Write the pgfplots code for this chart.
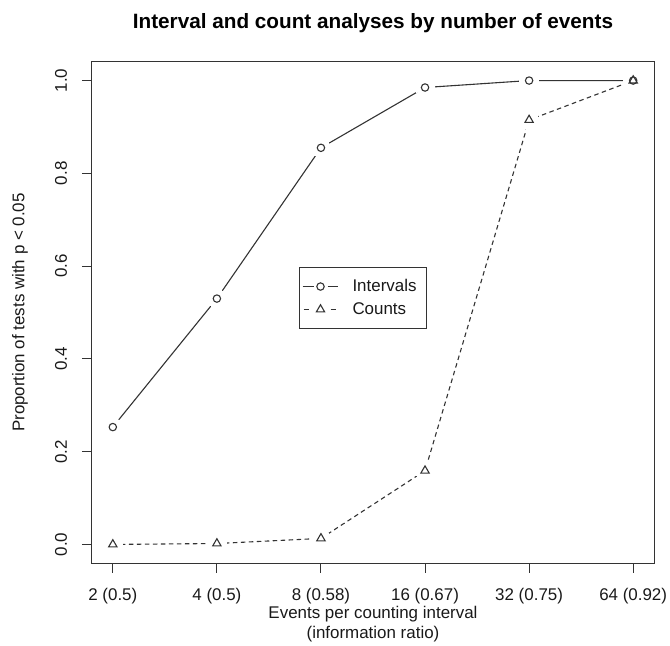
\documentclass[border=0pt]{standalone}
\usepackage{fontspec}
\setmainfont{Liberation Sans}
\usepackage{pgfplots}
\pgfplotsset{compat=1.18}
\definecolor{ink}{gray}{0.2}
\begin{document}
\begin{tikzpicture}
\useasboundingbox (-92bp,-83bp) rectangle (578bp,563bp);
\begin{axis}[
  scale only axis, width=562bp, height=501bp,
  at={(0,0)}, anchor=south west,
  xmin=-0.2, xmax=5.2, ymin=-0.04, ymax=1.04,
  xtick={0,1,2,3,4,5},
  xticklabels={2 (0.5),4 (0.5),8 (0.58),16 (0.67),32 (0.75),64 (0.92)},
  ytick={0,0.2,0.4,0.6,0.8,1.0},
  yticklabel style={/pgf/number format/.cd, fixed, fixed zerofill, precision=1, /tikz/.cd, rotate=90, anchor=base, inner sep=0pt},
  xticklabel style={anchor=base, inner sep=0pt},
  xticklabel shift=27bp, yticklabel shift=15bp,
  /pgf/number format/assume math mode=true,
  tick label style={font=\fontsize{17}{20}\selectfont, text=black!90},
  tick align=outside, major tick length=10bp,
  tick style={ink, line width=1bp},
  xtick pos=lower, ytick pos=left,
  axis line style={ink, line width=1bp},
  title={Interval and count analyses by number of events},
  title style={at={(axis description cs:0.5,1)}, anchor=base, yshift=28bp, inner sep=0pt, text=black, font=\bfseries\fontsize{20.8}{24}\selectfont},
  xlabel={Events per counting interval\\(information ratio)},
  xlabel style={at={(axis description cs:0.5,0)}, anchor=north, yshift=-43.5bp, inner sep=0pt, align=center, text=black!90, font=\fontsize{17}{20}\selectfont},
  ylabel={Proportion of tests with p < 0.05},
  ylabel style={at={(axis description cs:0,0.5)}, anchor=center, yshift=72bp, inner sep=0pt, text=black!90, font=\fontsize{17}{20}\selectfont},
  legend style={at={(axis cs:1.789,0.598)}, anchor=north west, draw=ink, line width=1bp, fill=white, inner xsep=0pt, inner ysep=7.5bp, row sep=0pt, column sep=0pt, text=black!90, font=\fontsize{17}{20}\selectfont, nodes={inner sep=0pt, text width=74bp, align=left, anchor=west}},
]
\addlegendimage{legend image code/.code={
  \path[draw=none, fill=none] (-3bp,-11.5bp) rectangle (50bp,11.5bp);
  \draw[ink, line width=1.1bp, solid] (0bp,0bp) -- (11bp,0bp) (25bp,0bp) -- (35bp,0bp);
  \draw[ink, line width=1.1bp, solid] (18bp,0bp) circle (3.7bp);
}}
\addlegendimage{legend image code/.code={
  \path[draw=none, fill=none] (-3bp,-11.5bp) rectangle (50bp,11.5bp);
  \draw[ink, line width=1.1bp, solid] (1bp,0bp) -- (6bp,0bp) (28bp,0bp) -- (33bp,0bp);
  \draw[ink, line width=1.1bp, solid] (18bp,4.8bp) -- (13.84bp,-2.4bp) -- (22.16bp,-2.4bp) -- cycle;
}}
\legend{Intervals,Counts}
% lines
\addplot[ink, line width=1.1bp, mark=none, forget plot] coordinates {(0,0.253) (1,0.530) (2,0.855) (3,0.985) (4,1.0) (5,1.0)};
\addplot[ink, line width=1.1bp, mark=none, dash pattern=on 4.5bp off 3.5bp, forget plot] coordinates {(0,0.0) (1,0.002) (2,0.013) (3,0.159) (4,0.915) (5,1.0)};
% gaps around points (type "b")
\addplot[white, only marks, mark=*, mark size=9.5bp, mark options={fill=white, draw=white, line width=0pt}, forget plot] coordinates {(0,0.253) (1,0.530) (2,0.855) (3,0.985) (4,1.0) (5,1.0)};
\addplot[white, only marks, mark=*, mark size=9.5bp, mark options={fill=white, draw=white, line width=0pt}, forget plot] coordinates {(0,0.0) (1,0.002) (2,0.013) (3,0.159) (4,0.915) (5,1.0)};
% points
\addplot[ink, only marks, mark=o, mark size=3.7bp, mark options={ink, line width=1.1bp, solid}, forget plot] coordinates {(0,0.253) (1,0.530) (2,0.855) (3,0.985) (4,1.0) (5,1.0)};
\addplot[ink, only marks, mark=triangle, mark size=4.8bp, mark options={ink, line width=1.1bp, solid}, forget plot] coordinates {(0,0.0) (1,0.002) (2,0.013) (3,0.159) (4,0.915) (5,1.0)};
\end{axis}
\end{tikzpicture}
\end{document}
